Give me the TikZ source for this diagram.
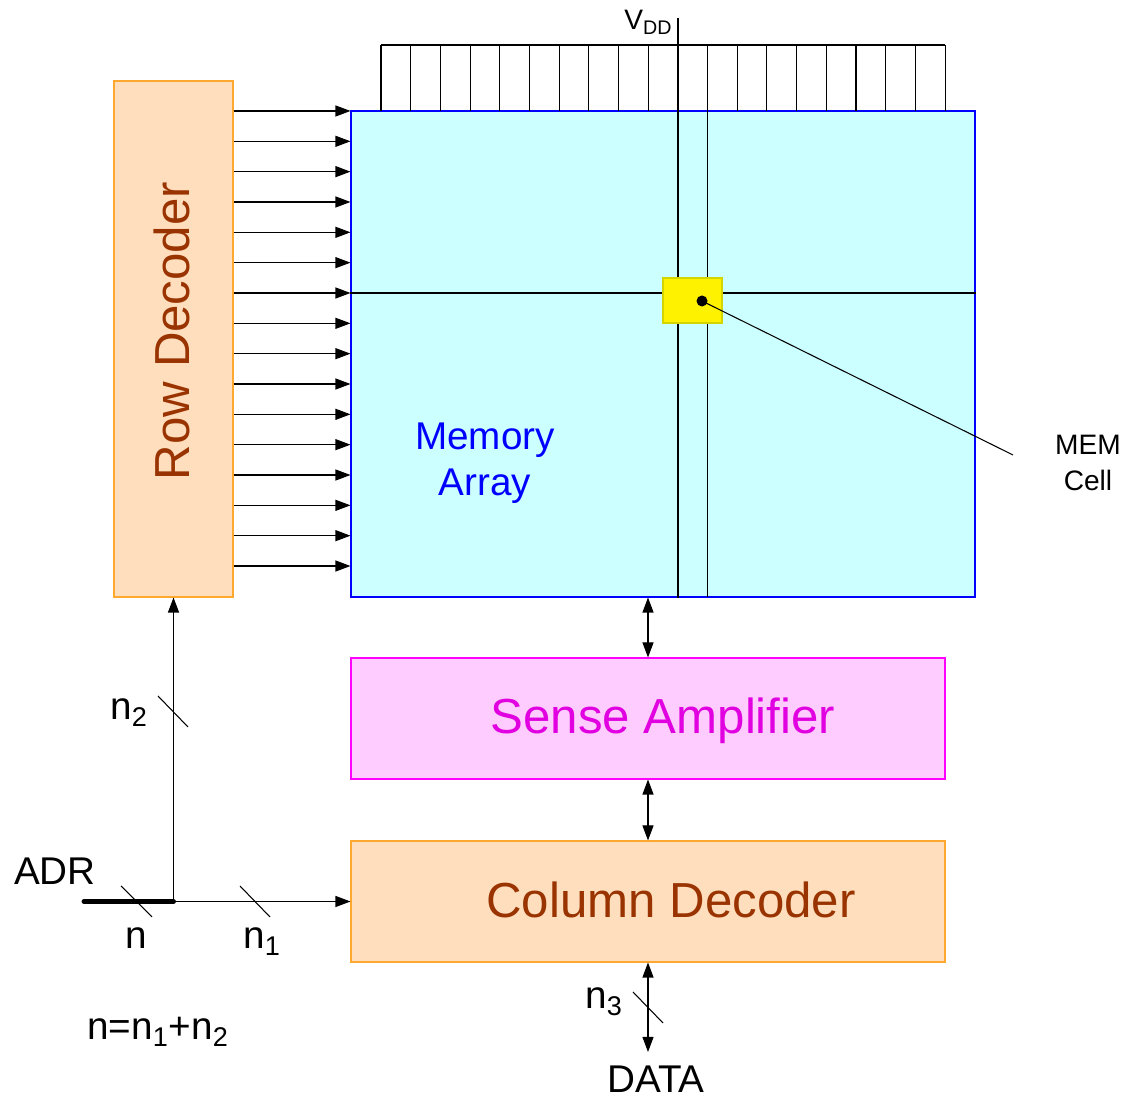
\documentclass[tikz,border=0pt]{standalone}
\usepackage{fontspec}
\setmainfont{Liberation Sans}
\usetikzlibrary{arrows.meta,positioning,calc}
\definecolor{peach}{HTML}{FFDEBD}
\definecolor{peachline}{HTML}{FFA830}
\definecolor{memfill}{HTML}{CCFFFF}
\definecolor{sensefill}{HTML}{FFCCFF}
\definecolor{senseline}{HTML}{FF00FF}
\definecolor{sensetext}{HTML}{E000E0}
\definecolor{brownish}{HTML}{993300}
\definecolor{cellline}{HTML}{D4D400}

\begin{document}
\begin{tikzpicture}[
        block/.style={draw, line width=0.6pt, inner sep=0pt},
        decoder/.style={block, draw=peachline, fill=peach},
        wire/.style={line width=0.6pt},
        arrow/.style={-{Triangle[length=0.3cm,width=0.22cm]}, wire},
        biarrow/.style={{Triangle[length=0.3cm,width=0.22cm]}-{Triangle[length=0.3cm,width=0.22cm]}, wire},
        lbl/.style={font=\fontsize{22}{26}\selectfont},
        bigtext/.style={font=\fontsize{28}{32}\selectfont}
    ]
    \useasboundingbox (0,0) rectangle (22.52,21.98);

    % ---- Blocos principais ----
    \node[decoder, minimum width=2.38cm, minimum height=10.32cm] (rowdec) at (3.47,15.2) {};
    \node[block, draw=blue, fill=memfill, minimum width=12.48cm, minimum height=9.72cm] (mem) at (13.26,14.9) {};
    \node[block, draw=senseline, fill=sensefill, minimum width=11.88cm, minimum height=2.42cm] (sense) at (12.96,7.61) {};
    \node[decoder, minimum width=11.88cm, minimum height=2.42cm] (coldec) at (12.96,3.95) {};

    \node[bigtext, text=brownish, rotate=90] (rowtxt) at (3.44,15.36) {Row Decoder};
    \node[lbl, text=blue, align=center] (memtxt) at (9.7,12.72) {Memory\\Array};
    \node[bigtext, text=sensetext] (sensetxt) at (13.26,7.56) {Sense Amplifier};
    \node[bigtext, text=brownish] (coltxt) at (13.42,3.98) {Column Decoder};

    % ---- Word lines (Row Decoder -> Array) ----
    \foreach \k [evaluate=\k as \yy using 19.76-\k*0.6067] in {0,...,15}
        \draw[arrow] (rowdec.east |- 0,\yy) -- (mem.west |- 0,\yy);

    % ---- Pull-ups no topo ----
    \draw[wire] (7.62,21.08) -- (18.90,21.08);
    \foreach \i [evaluate=\i as \xx using 7.62+\i*0.5937] in {0,...,19}
        \draw[wire] (\xx,21.08) -- (\xx,19.76);
    \node[font=\fontsize{16}{19}\selectfont, anchor=base] (vdd) at (12.97,21.38) {V\textsubscript{DD}};
    \coordinate (vddtop) at (13.56,21.62);
    \draw[wire] (vddtop) -- (vddtop |- mem.south);
    \draw[wire] (14.15,19.76) -- (14.15,10.04);
    \draw[wire] (mem.west |- 0,16.12) -- (mem.east |- 0,16.12);

    % Celula
    \node[block, draw=cellline, fill=yellow, minimum width=1.18cm, minimum height=0.9cm] (cell) at (13.85,15.97) {};
    \coordinate (dot) at (14.04,15.96);
    \coordinate (memtip) at (20.26,12.88);
    \fill (dot) circle (0.11);
    \draw[wire] (dot) -- (memtip);
    \node[font=\fontsize{16}{20.4}\selectfont, align=center] (memlbl) at (21.76,12.72) {MEM\\Cell};

    % ---- Setas verticais ----
    \draw[biarrow] (mem.south -| 12.96,0) -- (sense.north -| 12.96,0);
    \draw[biarrow] (sense.south -| 12.96,0) -- (coldec.north -| 12.96,0);
    \coordinate (dataend) at (12.96,0.94);
    \draw[biarrow] (coldec.south -| dataend) -- (dataend);
    \draw[wire] (12.66,2.14) -- (13.26,1.52);
    \node[lbl, anchor=base] (n3) at (12.08,1.8) {n\textsubscript{3}};
    \node[lbl, anchor=base] (data) at (13.12,0.12) {DATA};

    % ---- Enderecos ----
    \coordinate (junc) at (3.47,3.95);
    \coordinate (adrstart) at (1.68,3.95);
    \draw[line width=2.8pt, line cap=round] (adrstart) -- (junc);
    \draw[arrow] (junc) -- (rowdec.south);
    \draw[arrow] (junc) -- (coldec.west);
    \draw[wire] (2.42,4.26) -- (3.04,3.64);
    \draw[wire] (4.80,4.26) -- (5.40,3.64);
    \draw[wire] (3.16,8.06) -- (3.76,7.44);
    \node[lbl, anchor=base] (adr) at (1.1,4.28) {ADR};
    \node[lbl, anchor=base] (nlbl) at (2.72,3.0) {n};
    \node[lbl, anchor=base] (n1) at (5.24,3.0) {n\textsubscript{1}};
    \node[lbl, anchor=base] (n2) at (2.58,7.58) {n\textsubscript{2}};
    \node[lbl, anchor=base] (sum) at (3.16,1.18) {n=n\textsubscript{1}+n\textsubscript{2}};

\end{tikzpicture}
\end{document}
